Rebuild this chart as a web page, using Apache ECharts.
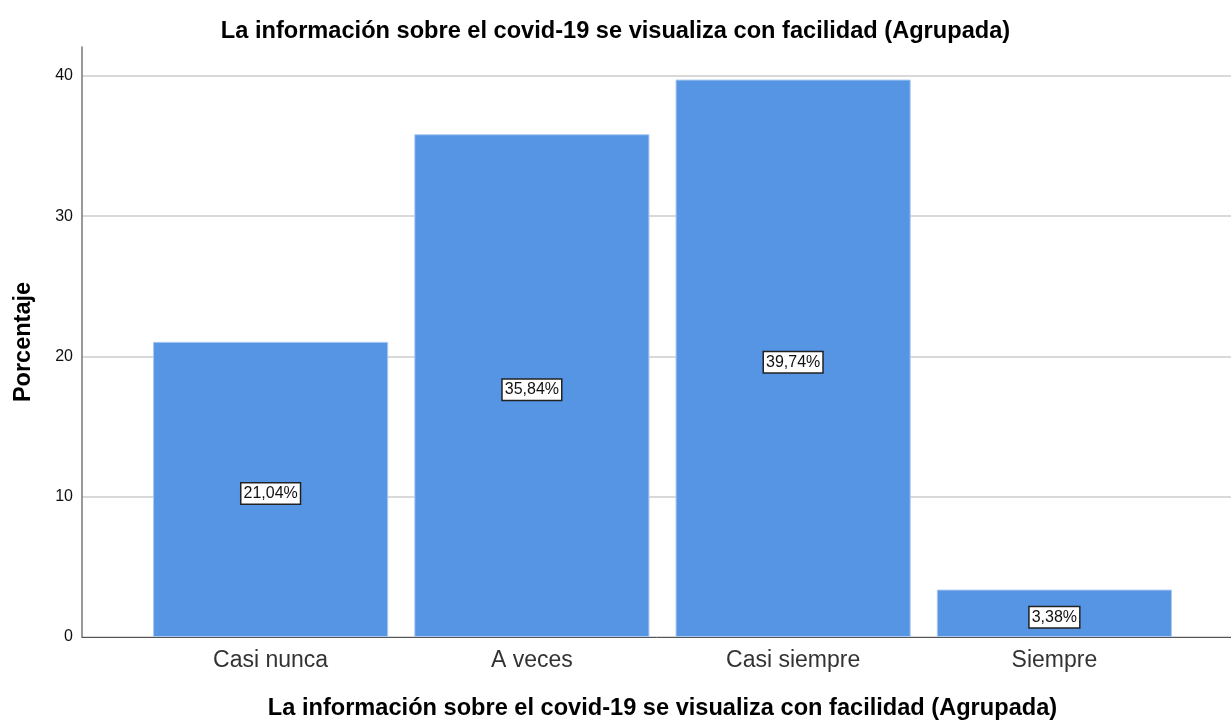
<!DOCTYPE html>
<html>
<head>
<meta charset="utf-8">
<script src="https://cdn.jsdelivr.net/npm/echarts@6/dist/echarts.min.js"></script>
<style>
  html, body { margin: 0; padding: 0; background: #fff; }
  #main { width: 1231px; height: 720px; }
</style>
</head>
<body>
<div id="main"></div>
<script>
// datos
const categorias = ['Casi nunca', 'A veces', 'Casi siempre', 'Siempre']
const porcentajes = [21.04, 35.84, 39.74, 3.38]
const tituloTexto = 'La información sobre el covid-19 se visualiza con facilidad (Agrupada)'

const myChart = echarts.init(document.getElementById('main'))

const fuente = 'Arial, "Liberation Sans", sans-serif'

const option = {
  animation: false,
  title: {
    text: tituloTexto,
    left: 'center',
    top: 14,
    textStyle: { fontFamily: fuente, fontSize: 23.6, fontWeight: 'bold', color: '#000' }
  },
  // grid 0: fondo con eje y y líneas, grid 1: barras (con margen lateral como en SPSS)
  grid: [
    { left: 82, right: 0, top: 47, bottom: 83, outerBoundsMode: 'none' },
    { left: 140, right: 46, top: 47, bottom: 83, outerBoundsMode: 'none' }
  ],
  xAxis: [
    {
      gridIndex: 0,
      type: 'category',
      data: [''],
      axisLine: { lineStyle: { color: '#555', width: 1 } },
      axisTick: { show: false },
      axisLabel: { show: false }
    },
    {
      gridIndex: 1,
      type: 'category',
      data: categorias,
      axisLine: { show: false },
      axisTick: { show: false },
      axisLabel: { fontFamily: fuente, fontSize: 23, color: '#333', margin: 12 },
      name: tituloTexto,
      nameLocation: 'middle',
      nameGap: 59,
      nameTextStyle: { fontFamily: fuente, fontSize: 23.6, fontWeight: 'bold', color: '#000' }
    }
  ],
  yAxis: [
    {
      gridIndex: 0,
      type: 'value',
      min: 0,
      max: 42.06,
      interval: 10,
      axisLine: { show: true, lineStyle: { color: '#777', width: 1.5 } },
      axisTick: { show: false },
      axisLabel: { fontFamily: fuente, fontSize: 16, color: '#111', margin: 9, showMaxLabel: false },
      splitLine: { show: true, showMaxLine: false, lineStyle: { color: '#cccccc', width: 1.5 } },
      name: 'Porcentaje',
      nameLocation: 'middle',
      nameGap: 46,
      nameRotate: 90,
      nameTextStyle: { fontFamily: fuente, fontSize: 23.5, fontWeight: 'bold', color: '#000' }
    },
    {
      gridIndex: 1,
      type: 'value',
      min: 0,
      max: 42.06,
      show: false,
      splitLine: { show: false }
    }
  ],
  series: [
    {
      type: 'bar',
      xAxisIndex: 1,
      yAxisIndex: 1,
      data: porcentajes,
      barCategoryGap: '10%',
      itemStyle: { color: '#5595E4', borderColor: '#a9c9f1', borderWidth: 1 },
      label: {
        show: true,
        position: 'inside',
        offset: [0, 4],
        formatter: p => p.value.toFixed(2).replace('.', ',') + '%',
        fontFamily: fuente,
        fontSize: 16,
        color: '#111',
        backgroundColor: '#fff',
        borderColor: '#222',
        borderWidth: 1.5,
        padding: [3, 2, 1, 2]
      }
    }
  ]
}

myChart.setOption(option)
</script>
</body>
</html>
